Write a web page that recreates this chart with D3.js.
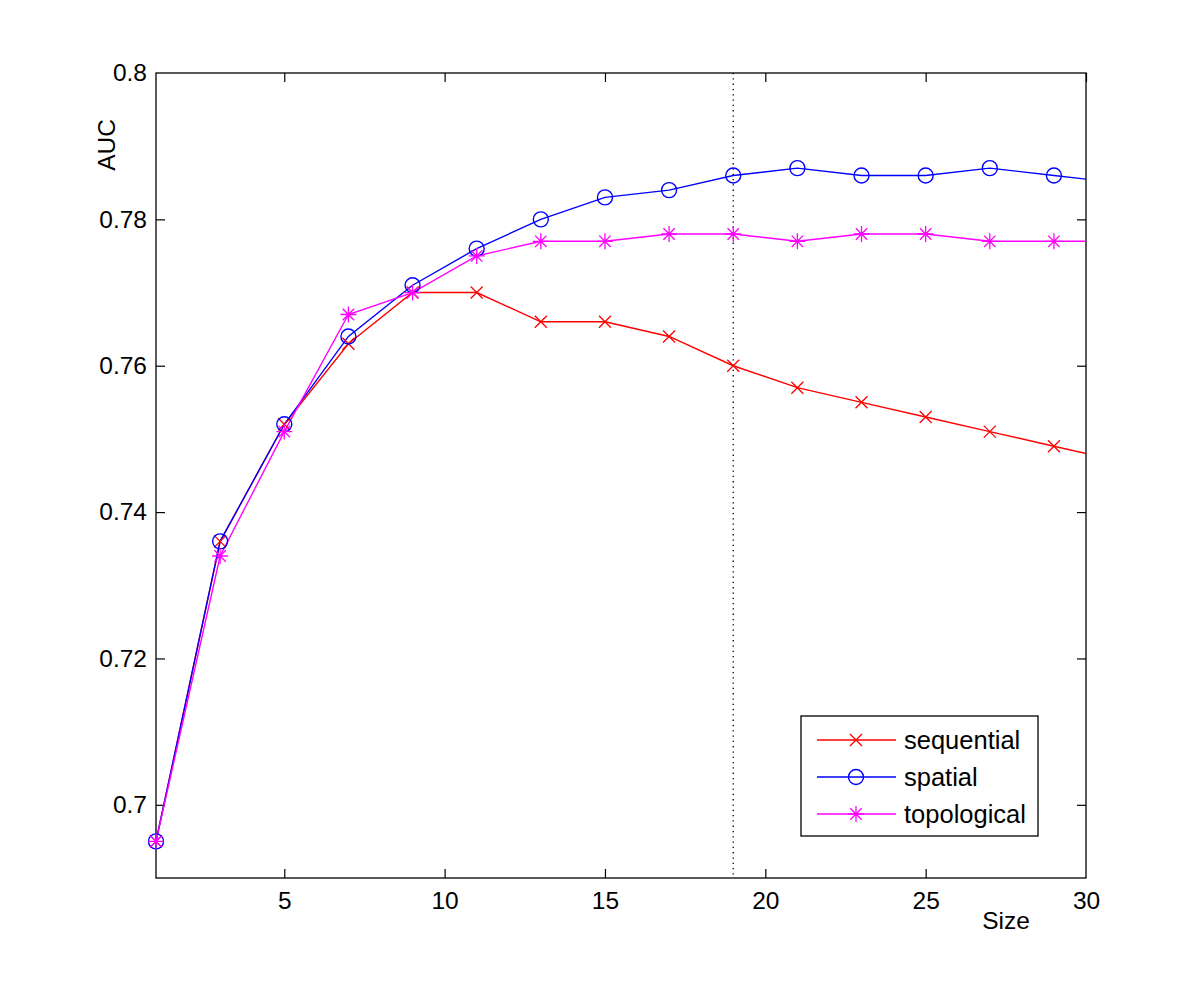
<!DOCTYPE html>
<html><head><meta charset="utf-8">
<script src="https://cdn.jsdelivr.net/npm/d3@7"></script>
<style>body{margin:0;background:#fff}svg{display:block}text{font-family:"Liberation Sans",Arial,sans-serif}</style>
</head><body><svg id="c" width="1200" height="989"></svg>
<script>
const sizes = [1,3,5,7,9,11,13,15,17,19,21,23,25,27,29,31];
const sequential = [0.695,0.736,0.752,0.763,0.770,0.770,0.766,0.766,0.764,0.760,0.757,0.755,0.753,0.751,0.749,0.747];
const spatial = [0.695,0.736,0.752,0.764,0.771,0.776,0.780,0.783,0.784,0.786,0.787,0.786,0.786,0.787,0.786,0.785];
const topological = [0.695,0.734,0.751,0.767,0.770,0.775,0.777,0.777,0.778,0.778,0.777,0.778,0.778,0.777,0.777,0.777];
const xTicks = [5,10,15,20,25,30];
const yTicks = [0.70,0.72,0.74,0.76,0.78,0.80];
const yTickLabels = ["0.7","0.72","0.74","0.76","0.78","0.8"];
const seriesNames = ["sequential","spatial","topological"];
const markerLine = 19;

const L=156,R=1086,T=73,B=878;
const FS=24.5;
const svg=d3.select("#c");
const x=d3.scaleLinear().domain([1,30]).range([L,R]);
const y=d3.scaleLinear().domain([0.69,0.80]).range([B,T]);

svg.append("defs").append("clipPath").attr("id","clip").append("rect").attr("x",L).attr("y",T).attr("width",R-L).attr("height",B-T);

const tl=9;
const gb=svg.append("g").attr("transform",`translate(0,${B})`).call(d3.axisBottom(x).tickValues(xTicks).tickSize(-tl).tickPadding(14).tickFormat(d3.format("d")));
const gt=svg.append("g").attr("transform",`translate(0,${T})`).call(d3.axisTop(x).tickValues(xTicks).tickSize(-tl).tickFormat(""));
const gl=svg.append("g").attr("transform",`translate(${L},0)`).call(d3.axisLeft(y).tickValues(yTicks).tickSize(-tl).tickPadding(9).tickFormat((d,i)=>yTickLabels[i]));
const gr=svg.append("g").attr("transform",`translate(${R},0)`).call(d3.axisRight(y).tickValues(yTicks).tickSize(-tl).tickFormat(""));
[gb,gt,gl,gr].forEach(g=>{g.select(".domain").remove();g.selectAll("line").attr("stroke","#000").attr("stroke-width",1.2);g.selectAll("text").attr("font-size",FS).attr("fill","#000");});
gb.selectAll(".tick").filter(d=>d===30).select("line").remove();
gl.selectAll(".tick").filter(d=>d===0.80).select("line").remove();
gr.selectAll(".tick").filter(d=>d===0.80).select("line").remove();
gb.selectAll("text").attr("dy","0.71em");

svg.append("rect").attr("x",L).attr("y",T).attr("width",R-L).attr("height",B-T).attr("fill","none").attr("stroke","#000").attr("stroke-width",1.3);

svg.append("line").attr("x1",x(markerLine)).attr("x2",x(markerLine)).attr("y1",T).attr("y2",B)
  .attr("stroke","#000").attr("stroke-width",1.3).attr("stroke-dasharray","1.3,4");

const colors=["#ff0000","#0000ff","#ff00ff"];
const data=[sequential,spatial,topological];
const plot=svg.append("g").attr("clip-path","url(#clip)");
const marks=svg.append("g");
const line=d3.line().x((d,i)=>x(sizes[i])).y(d=>y(d));

function marker(g,type,cx,cy,c){
  if(type===0){
    const s=6;
    g.append("path").attr("d",`M${cx-s},${cy-s}L${cx+s},${cy+s}M${cx-s},${cy+s}L${cx+s},${cy-s}`).attr("stroke",c).attr("stroke-width",1.3).attr("fill","none");
  } else if(type===1){
    g.append("circle").attr("cx",cx).attr("cy",cy).attr("r",7.5).attr("stroke",c).attr("stroke-width",1.4).attr("fill","none");
  } else {
    const s=8, d=5.7;
    g.append("path").attr("d",`M${cx},${cy-s}L${cx},${cy+s}M${cx-s},${cy}L${cx+s},${cy}M${cx-d},${cy-d}L${cx+d},${cy+d}M${cx-d},${cy+d}L${cx+d},${cy-d}`).attr("stroke",c).attr("stroke-width",1.3).attr("fill","none");
  }
}

[0,1,2].forEach(k=>{
  plot.append("path").datum(data[k]).attr("d",line).attr("fill","none").attr("stroke",colors[k]).attr("stroke-width",1.4);
});
[0,1,2].forEach(k=>{
  data[k].forEach((v,i)=>{ if(sizes[i]<=30) marker(marks,k,x(sizes[i]),y(v),colors[k]); });
});

svg.append("text").attr("x",1006).attr("y",929).attr("text-anchor","middle").attr("font-size",FS).text("Size");
svg.append("text").attr("transform","translate(115,145) rotate(-90)").attr("text-anchor","middle").attr("font-size",FS).text("AUC");

const lg=svg.append("g");
lg.append("rect").attr("x",801).attr("y",716).attr("width",237).attr("height",120).attr("fill","#fff").attr("stroke","#000").attr("stroke-width",1.3);
seriesNames.forEach((n,k)=>{
  const yy=740+k*37;
  lg.append("line").attr("x1",817).attr("x2",896).attr("y1",yy).attr("y2",yy).attr("stroke",colors[k]).attr("stroke-width",1.4);
  marker(lg,k,856,yy,colors[k]);
  lg.append("text").attr("x",904).attr("y",yy).attr("dy","0.35em").attr("font-size",25.5).text(n);
});
</script></body></html>
